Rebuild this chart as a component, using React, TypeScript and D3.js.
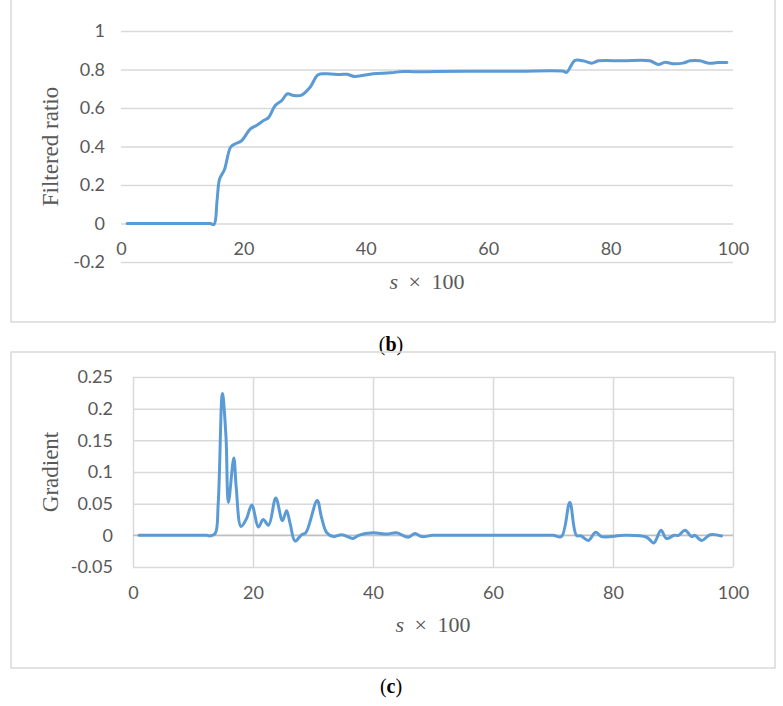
import React, { useEffect, useRef } from "react";
import * as d3 from "d3";

// s x 100 tick values shared by both panels
const sTicks = [0, 20, 40, 60, 80, 100];
const ratioTicks = [-0.2, 0, 0.2, 0.4, 0.6, 0.8, 1];
const gradTicks = [-0.05, 0, 0.05, 0.1, 0.15, 0.2, 0.25];

// (b) filtered ratio
const ratioS = [
  1, 5, 10, 14, 14.6, 15.2, 15.7, 16.1, 16.9, 17.9, 18.6, 19.7, 21.1, 22.2, 23.3,
  24.1, 25.2, 26.3, 27.2, 28.2, 29.5, 30.9, 32.2, 33.6, 35.8, 36.9, 38.2, 41.2, 44,
  46.1, 48, 51.4, 57.5, 65, 72.3, 72.8, 74.2, 75.5, 76.9, 78, 82, 86.4, 87.8, 88.9,
  90.2, 91.8, 93, 94.6, 96, 97.5, 99,
];
const ratioValues = [
  0, 0, 0, 0, 0, -0.005, 0.12, 0.23, 0.28, 0.396, 0.413, 0.43, 0.49, 0.51, 0.535,
  0.55, 0.613, 0.64, 0.674, 0.665, 0.667, 0.708, 0.773, 0.778, 0.774, 0.775, 0.764,
  0.778, 0.783, 0.79, 0.788, 0.789, 0.791, 0.791, 0.791, 0.785, 0.847, 0.845, 0.833,
  0.845, 0.845, 0.845, 0.826, 0.837, 0.83, 0.833, 0.845, 0.845, 0.833, 0.836, 0.837,
];

// (c) gradient
const gradS = [
  1, 5, 10, 12.3, 12.8, 13.7, 14.2, 14.9, 15.5, 15.9, 16.8, 17.2, 18, 18.9, 19.8,
  20.9, 21.7, 22.6, 23.8, 24.9, 25.6, 26.2, 27, 28.1, 28.8, 30.7, 31.4, 32.3, 33.4,
  34.8, 36.7, 37.6, 40, 42.3, 43.9, 45.9, 47, 48.1, 50, 55, 60, 65, 70, 71.4, 72.8,
  73.9, 74.7, 75.9, 77.1, 78.1, 82, 85.6, 86.8, 88, 88.9, 90.2, 90.9, 92, 93.1, 93.6,
  94.8, 96.2, 98.1,
];
const gradValues = [
  0, 0, 0, 0, -0.001, 0.003, 0.05, 0.224, 0.155, 0.052, 0.122, 0.076, 0.014, 0.026,
  0.048, 0.013, 0.025, 0.016, 0.059, 0.023, 0.039, 0.018, -0.009, 0.001, 0.004, 0.055,
  0.029, 0.004, -0.002, 0.001, -0.005, 0, 0.004, 0.002, 0.004, -0.003, 0.003, -0.002,
  0, 0, 0, 0, 0, -0.002, 0.052, 0, -0.001, -0.008, 0.005, -0.002, 0, -0.003, -0.012,
  0.008, -0.005, 0, 0, 0.008, -0.002, 0, -0.008, 0.001, -0.001,
];

const lineBlue = "#5B9BD5";
const gridGray = "#D9D9D9";
const textGray = "#595959";
const tickFont = "Lato, 'Open Sans', sans-serif";
const serif = "'Liberation Serif', 'Times New Roman', serif";

type Panel = {
  boxTop: number;
  boxBottom: number;
  xRange: [number, number];
  yDomain: [number, number];
  yRange: [number, number];
  yTicks: number[];
  yPad: number;
  xs: number[];
  vs: number[];
  yTitle: string;
  vGrid: boolean;
  labelsAtZero: boolean;
  caption: string;
  captionY: number;
};

function drawPanel(svg: any, p: Panel) {
  const x = d3.scaleLinear().domain([0, 100]).range(p.xRange);
  const y = d3.scaleLinear().domain(p.yDomain).range(p.yRange);
  const plotW = p.xRange[1] - p.xRange[0];
  const plotH = p.yRange[0] - p.yRange[1];

  // outer frame
  svg
    .append("rect")
    .attr("x", 11)
    .attr("y", p.boxTop)
    .attr("width", 764)
    .attr("height", p.boxBottom - p.boxTop)
    .attr("fill", "none")
    .attr("stroke", gridGray)
    .attr("stroke-width", 1.5);

  // y axis with horizontal gridlines
  svg
    .append("g")
    .attr("transform", `translate(${p.xRange[0]},0)`)
    .call(d3.axisLeft(y).tickValues(p.yTicks).tickSize(-plotW).tickPadding(p.yPad).tickFormat((d: any) => String(d)))
    .call((g: any) => g.select(".domain").remove())
    .call((g: any) => g.selectAll(".tick line").attr("stroke", gridGray).attr("stroke-width", 1.5))
    .call((g: any) =>
      g.selectAll(".tick text").attr("fill", textGray).attr("font-family", tickFont).attr("font-size", 18)
    );

  // x axis: labels under y=0 (top) or under the plot with vertical grid (bottom)
  const xBase = p.labelsAtZero ? y(0) : p.yRange[0];
  svg
    .append("g")
    .attr("transform", `translate(0,${xBase})`)
    .call(d3.axisBottom(x).tickValues(sTicks).tickSize(p.vGrid ? -plotH : 0).tickPadding(19))
    .call((g: any) => g.select(".domain").remove())
    .call((g: any) => g.selectAll(".tick line").attr("stroke", gridGray).attr("stroke-width", 1.5))
    .call((g: any) =>
      g.selectAll(".tick text").attr("fill", textGray).attr("font-family", tickFont).attr("font-size", 18)
    );

  if (!p.labelsAtZero) {
    // axis line at zero
    svg
      .append("line")
      .attr("x1", p.xRange[0])
      .attr("x2", p.xRange[1])
      .attr("y1", y(0))
      .attr("y2", y(0))
      .attr("stroke", "#BFBFBF")
      .attr("stroke-width", 1.5);
  }

  const line = d3
    .line<number>()
    .x((d, i) => x(p.xs[i]))
    .y((d) => y(d))
    .curve(d3.curveCatmullRom.alpha(0.5));

  svg
    .append("path")
    .attr("d", line(p.vs))
    .attr("fill", "none")
    .attr("stroke", lineBlue)
    .attr("stroke-width", 3)
    .attr("stroke-linejoin", "round")
    .attr("stroke-linecap", "round");

  // y title
  const midY = (p.yRange[0] + p.yRange[1]) / 2;
  svg
    .append("text")
    .attr("transform", `translate(58,${midY}) rotate(-90)`)
    .attr("text-anchor", "middle")
    .attr("font-family", serif)
    .attr("font-size", 23)
    .attr("fill", textGray)
    .text(p.yTitle);

  // x title
  const labelCenter = xBase + 26;
  const xt = svg
    .append("text")
    .attr("x", (p.xRange[0] + p.xRange[1]) / 2)
    .attr("y", labelCenter + 39)
    .attr("text-anchor", "middle")
    .attr("font-family", serif)
    .attr("font-size", 22)
    .attr("word-spacing", 5)
    .attr("fill", textGray);
  xt.append("tspan").attr("font-style", "italic").text("s");
  xt.append("tspan").text(" \u00D7 100");

  // caption
  const cap = svg
    .append("text")
    .attr("x", 391)
    .attr("y", p.captionY)
    .attr("text-anchor", "middle")
    .attr("font-family", serif)
    .attr("font-size", 20)
    .attr("fill", "#000");
  cap.append("tspan").text("(");
  cap.append("tspan").attr("font-weight", "bold").text(p.caption);
  cap.append("tspan").text(")");
}

const App = () => {
  const ref = useRef<SVGSVGElement>(null);

  useEffect(() => {
    const svg = d3.select(ref.current);
    svg.selectAll("*").remove();

    drawPanel(svg, {
      boxTop: -4,
      boxBottom: 322,
      xRange: [121, 733],
      yDomain: [-0.2, 1],
      yRange: [262, 31],
      yTicks: ratioTicks,
      yPad: 16,
      xs: ratioS,
      vs: ratioValues,
      yTitle: "Filtered ratio",
      vGrid: false,
      labelsAtZero: true,
      caption: "b",
      captionY: 351,
    });

    drawPanel(svg, {
      boxTop: 352,
      boxBottom: 668,
      xRange: [133, 733],
      yDomain: [-0.05, 0.25],
      yRange: [567, 377],
      yTicks: gradTicks,
      yPad: 20,
      xs: gradS,
      vs: gradValues,
      yTitle: "Gradient",
      vGrid: true,
      labelsAtZero: false,
      caption: "c",
      captionY: 693,
    });
  }, []);

  return (
    <svg
      ref={ref}
      width={783}
      height={706}
      style={{ position: "absolute", left: 0, top: 0, background: "#fff" }}
    ></svg>
  );
};

export default App;
